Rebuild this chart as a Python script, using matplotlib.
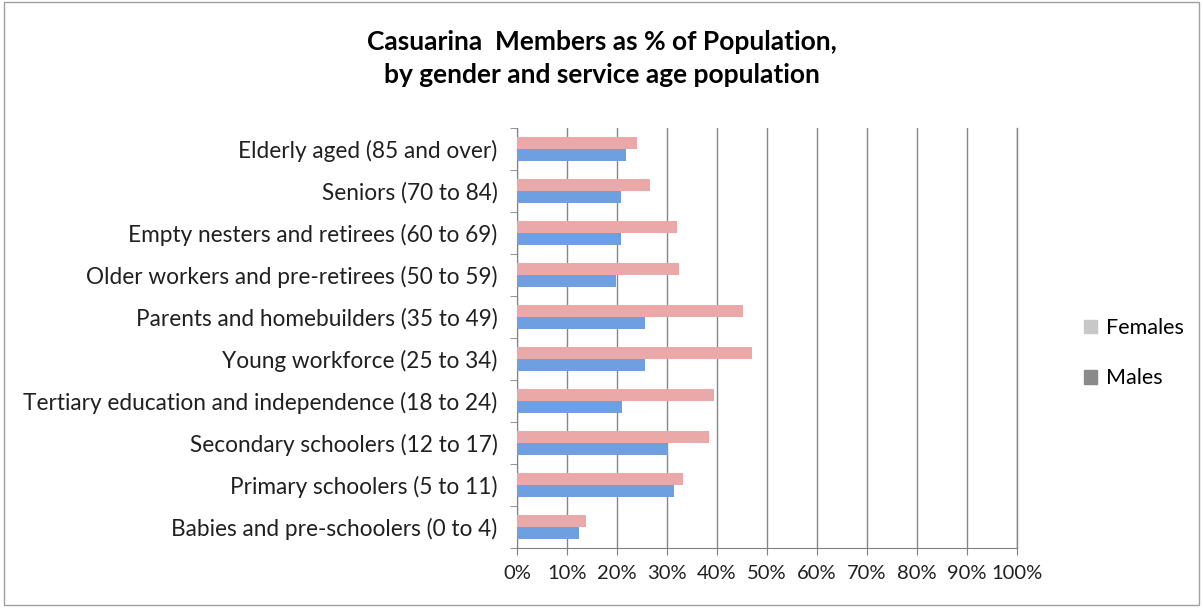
import matplotlib.pyplot as plt
import numpy as np
from matplotlib.patches import Rectangle, Patch

plt.rcParams['font.family'] = ['Lato', 'DejaVu Sans']

# categories listed bottom to top
groups = ['Babies and pre-schoolers (0 to 4)',
          'Primary schoolers (5 to 11)',
          'Secondary schoolers (12 to 17)',
          'Tertiary education and independence (18 to 24)',
          'Young workforce (25 to 34)',
          'Parents and homebuilders (35 to 49)',
          'Older workers and pre-retirees (50 to 59)',
          'Empty nesters and retirees (60 to 69)',
          'Seniors (70 to 84)',
          'Elderly aged (85 and over)']
females = [13.8, 33.1, 38.4, 39.3, 46.9, 45.1, 32.4, 31.9, 26.5, 24.0]
males = [12.4, 31.3, 30.1, 20.9, 25.5, 25.5, 19.8, 20.8, 20.8, 21.7]
xticks = list(range(0, 101, 10))

fig = plt.figure(figsize=(12.03, 6.09), dpi=100)
ax = fig.add_axes([0.4298, 0.1002, 0.4156, 0.6896])

y = np.arange(len(groups))
h = 0.28
ax.barh(y + h/2, females, height=h, color='#EBA8A8', zorder=3)
ax.barh(y - h/2, males, height=h, color='#6E9FE0', zorder=3)

ax.set_xlim(0, 100)
ax.set_ylim(-0.5, len(groups) - 0.5)
ax.set_xticks(xticks)
ax.set_xticklabels([f'{t}%' for t in xticks], fontsize=14.5, color='#202020')
ax.set_yticks(y)
ax.set_yticklabels(groups, fontsize=16.3, color='#202020')
ax.set_yticks(np.arange(len(groups) + 1) - 0.5, minor=True)
ax.tick_params(axis='y', which='major', length=0, pad=14)
ax.tick_params(axis='y', which='minor', length=5, color='#808080')
ax.tick_params(axis='x', length=5, color='#808080', pad=7)
ax.grid(axis='x', color='#868686', linewidth=1, zorder=0)
ax.axvline(100, color='#868686', linewidth=1, zorder=0, clip_on=False)

for s in ['top', 'right']:
    ax.spines[s].set_visible(False)
for s in ['left', 'bottom']:
    ax.spines[s].set_color('#808080')

fig.text(0.5, 0.95, 'Casuarina  Members as % of Population,\nby gender and service age population',
         ha='center', va='top', fontsize=19, fontweight='bold', linespacing=1.45)

# legend with grey swatches like the original
handles = [Patch(color='#c8c8c8', label='Females'), Patch(color='#8a8a8a', label='Males')]
fig.legend(handles=handles, loc='center left', bbox_to_anchor=(0.885, 0.42),
           frameon=False, fontsize=15.5, handlelength=0.6, handleheight=0.6,
           handletextpad=0.4, labelspacing=1.4)

fig.patches.append(Rectangle((0.003, 0.006), 0.994, 0.99, transform=fig.transFigure,
                             fill=False, edgecolor='#a0a0a0', linewidth=1))

fig.savefig('out.png', dpi=100)
